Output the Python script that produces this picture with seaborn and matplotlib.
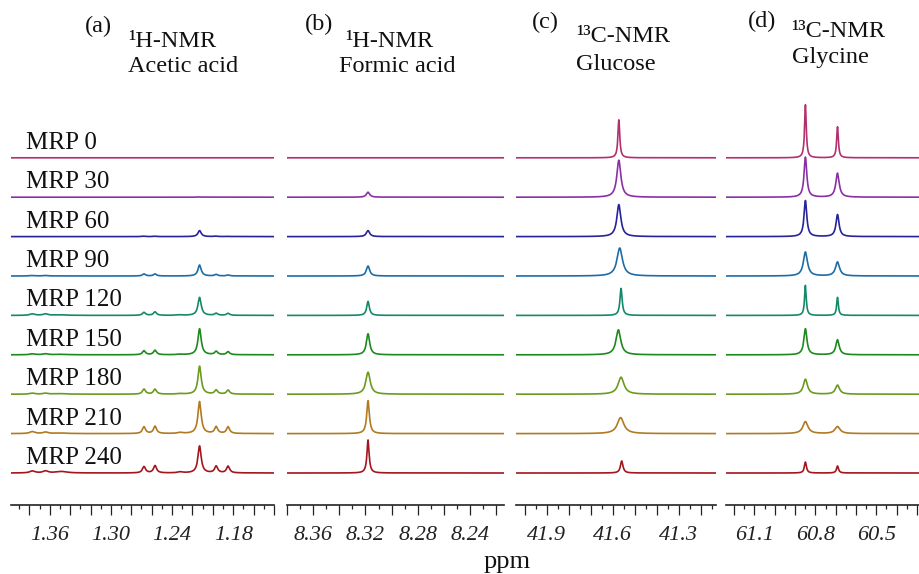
import numpy as np
import pandas as pd
import matplotlib
matplotlib.use("Agg")
import matplotlib.pyplot as plt
import seaborn as sns
from matplotlib.ticker import MultipleLocator, FuncFormatter

# ---------------- data ----------------
samples = ["MRP 0", "MRP 30", "MRP 60", "MRP 90", "MRP 120",
           "MRP 150", "MRP 180", "MRP 210", "MRP 240"]
colors = ["#B3306F", "#8A30A6", "#25249A", "#1E6CA6", "#14896A",
          "#1C8A1E", "#6C9A1E", "#B07A22", "#A3161E"]

# (a) 1H-NMR acetic acid: peak positions (ppm), half-widths, heights per sample
acetic_pos = [1.377, 1.364, 1.348, 1.2675, 1.2567, 1.232, 1.213, 1.1967, 1.185]
acetic_hw = [0.003, 0.003, 0.006, 0.0018, 0.0018, 0.003, 0.0019, 0.0018, 0.0018]
acetic_h = [
    [0, 0, 0, 0, 0, 0, 0, 0, 0],
    [0, 0, 0, 0, 0, 0, 0.3, 0, 0],
    [0, 0, 0, 0.4, 0.4, 0, 6, 0.4, 0.3],
    [0.5, 0.5, 0, 2, 2, 0, 11, 1.5, 1],
    [1.5, 1.5, 0.5, 3, 3.5, 0.5, 18, 2, 2],
    [1, 1, 0.5, 4, 4.5, 0.5, 26, 3.3, 3],
    [1, 1, 0.5, 5, 5, 0.5, 28, 4, 4],
    [2, 1.5, 0.5, 6.7, 7.3, 1, 32, 6.7, 6.7],
    [2, 2, 1.5, 6.3, 7.3, 1, 27, 6.7, 6.7],
]

# (b) 1H-NMR formic acid
formic_pos = 8.318
formic_h = [0, 5, 6, 10, 14, 21, 22, 33, 33]
formic_hw = [0.0015, 0.0015, 0.0015, 0.0015, 0.0012, 0.0015, 0.002, 0.0012, 0.001]

# (c) 13C-NMR glucose
glucose_pos = [41.572, 41.572, 41.572, 41.568, 41.562, 41.574, 41.562, 41.564, 41.559]
glucose_h = [38, 37, 32, 28, 27, 25, 17, 16, 12]
glucose_hw = [0.005, 0.011, 0.011, 0.015, 0.006, 0.013, 0.016, 0.018, 0.007]

# (d) 13C-NMR glycine (two peaks)
glycine_pos1 = 60.849
glycine_pos2 = 60.691
glycine_h1 = [53, 40, 36, 24, 30, 26, 15, 12, 11]
glycine_h2 = [31, 24, 22, 14, 18, 15, 9, 7, 7]
glycine_hw1 = [0.005, 0.008, 0.008, 0.012, 0.005, 0.009, 0.012, 0.015, 0.006]
glycine_hw2 = [0.005, 0.010, 0.009, 0.012, 0.005, 0.010, 0.012, 0.015, 0.006]

# axis ranges / tick labels
a_xlim, b_xlim, c_xlim, d_xlim = (1.398, 1.140), (8.380, 8.214), (42.04, 41.13), (61.24, 60.29)
a_labels = [1.36, 1.30, 1.24, 1.18]
b_labels = [8.36, 8.32, 8.28, 8.24]
c_labels = [41.9, 41.6, 41.3]
d_labels = [61.1, 60.8, 60.5]

# ---------------- drawing ----------------
sns.set_theme(style="white")
plt.rcParams["font.family"] = ["Liberation Serif", "DejaVu Serif"]

W, H = 919, 574
fig = plt.figure(figsize=(W / 100, H / 100), dpi=100)

AX_BOTTOM, AX_H = 69, 410
BASE0, STEP = 32, 39.4
offsets = [BASE0 + (len(samples) - 1 - i) * STEP for i in range(len(samples))]


def lorentz(x, p, h, w):
    return h / (1.0 + ((x - p) / w) ** 2)


def build(xlim, peaks_for):
    x = np.linspace(xlim[1], xlim[0], 3000)
    frames = []
    for i, s in enumerate(samples):
        y = np.zeros_like(x)
        for p, h, w in peaks_for(i):
            y += lorentz(x, p, h, w)
        frames.append(pd.DataFrame({"ppm": x, "y": y + offsets[i], "sample": s}))
    return pd.concat(frames, ignore_index=True)


panels = [
    (11, 274, a_xlim, 0.02, 0.01, a_labels, "{:.2f}",
     lambda i: list(zip(acetic_pos, acetic_h[i], acetic_hw))),
    (287, 504, b_xlim, 0.02, 0.01, b_labels, "{:.2f}",
     lambda i: [(formic_pos, formic_h[i], formic_hw[i])]),
    (516, 716, c_xlim, 0.1, 0.05, c_labels, "{:.1f}",
     lambda i: [(glucose_pos[i], glucose_h[i], glucose_hw[i])]),
    (726, 919, d_xlim, 0.1, 0.05, d_labels, "{:.1f}",
     lambda i: [(glycine_pos1, glycine_h1[i], glycine_hw1[i]),
                (glycine_pos2, glycine_h2[i], glycine_hw2[i])]),
]

for x0, x1, xlim, maj, mnr, labs, fmt, pk in panels:
    ax = fig.add_axes([x0 / W, AX_BOTTOM / H, (x1 - x0) / W, AX_H / H])
    df = build(xlim, pk)
    sns.lineplot(data=df, x="ppm", y="y", hue="sample", palette=colors,
                 estimator=None, sort=False, legend=False, lw=1.2, ax=ax)
    ax.set_xlim(*xlim)
    ax.set_ylim(0, AX_H)
    ax.set_xlabel("")
    ax.set_ylabel("")
    ax.set_yticks([])
    ax.patch.set_alpha(0)
    for sp in ["left", "right", "top"]:
        ax.spines[sp].set_visible(False)
    ax.spines["bottom"].set_linewidth(1.2)
    ax.spines["bottom"].set_color("#222222")
    ax.xaxis.set_major_locator(MultipleLocator(maj))
    ax.xaxis.set_minor_locator(MultipleLocator(mnr))

    def f(v, pos, labs=labs, fmt=fmt):
        for L in labs:
            if abs(v - L) < 1e-6:
                return fmt.format(L)
        return ""
    ax.xaxis.set_major_formatter(FuncFormatter(f))
    ax.tick_params(axis="x", which="major", direction="out", length=7, width=0.9,
                   color="#222222", bottom=True, pad=8)
    ax.tick_params(axis="x", which="minor", direction="out", length=3, width=0.9,
                   color="#222222", bottom=True)
    for t in ax.get_xticklabels():
        t.set_fontsize(16)
        t.set_fontstyle("italic")
        t.set_color("#222222")


def ftext(x, y, s, **kw):
    fig.text(x / W, 1 - y / H, s, va="baseline", ha=kw.pop("ha", "left"),
             color="#111111", **kw)


for i, s in enumerate(samples):
    ypix = H - AX_BOTTOM - offsets[i]
    ftext(26, ypix - 9, s, fontsize=18)

hdr = 17.5
ftext(85, 32, "(a)", fontsize=hdr)
ftext(128, 47, "¹H-NMR", fontsize=hdr)
ftext(128, 72, "Acetic acid", fontsize=hdr)
ftext(305, 30, "(b)", fontsize=hdr)
ftext(345, 47, "¹H-NMR", fontsize=hdr)
ftext(339, 72, "Formic acid", fontsize=hdr)
ftext(532, 28, "(c)", fontsize=hdr)
ftext(576, 42, "¹³C-NMR", fontsize=hdr)
ftext(576, 70, "Glucose", fontsize=hdr)
ftext(748, 27, "(d)", fontsize=hdr)
ftext(791, 37, "¹³C-NMR", fontsize=hdr)
ftext(792, 63, "Glycine", fontsize=hdr)
ftext(507, 568, "ppm", fontsize=19, ha="center")

fig.savefig("out.png", dpi=100)
